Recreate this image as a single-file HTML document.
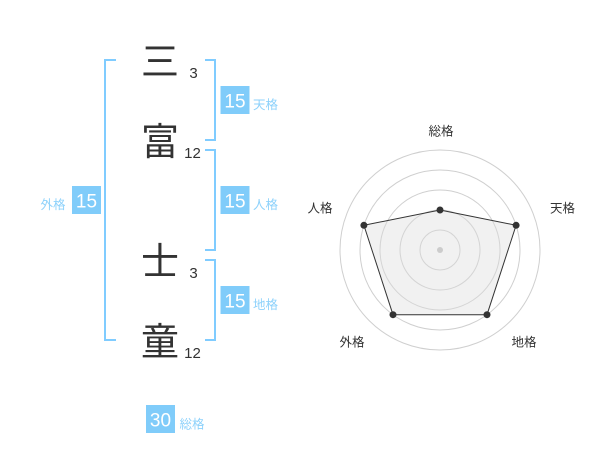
<!DOCTYPE html>
<html>
<head>
<meta charset="utf-8">
<style>
  html, body { margin: 0; padding: 0; background: #fff; }
  body { width: 600px; height: 470px; overflow: hidden; }
  svg { display: block; }
  .kanji { font-family: "Noto Sans CJK JP", "Noto Sans CJK SC", sans-serif; font-size: 38px; fill: #333; }
  .num { font-family: "Liberation Sans", sans-serif; font-size: 15px; fill: #333; }
  .badge { fill: #80ccfa; }
  .bnum { font-family: "Liberation Sans", sans-serif; font-size: 19px; fill: #fff; }
  .blabel { font-family: "Liberation Sans", "Noto Sans CJK JP", sans-serif; font-size: 12.5px; fill: #8ed2fb; }
  .rlabel { font-family: "Liberation Sans", "Noto Sans CJK JP", sans-serif; font-size: 12.5px; fill: #333; }
</style>
</head>
<body>
<svg width="600" height="470" viewBox="0 0 600 470" xmlns="http://www.w3.org/2000/svg">
  <!-- brackets -->
  <g fill="none" stroke="#80ccff" stroke-width="2">
    <path d="M116,60 H105 V340 H116"/>
    <path d="M205,60 H215 V140 H205"/>
    <path d="M205,150 H215 V250 H205"/>
    <path d="M205,260 H215 V340 H205"/>
  </g>

  <!-- kanji -->
  <text class="kanji" x="160" y="75" text-anchor="middle">三</text>
  <text class="kanji" x="160" y="155" text-anchor="middle">富</text>
  <text class="kanji" x="160" y="275" text-anchor="middle">士</text>
  <text class="kanji" x="160" y="355" text-anchor="middle">童</text>

  <!-- stroke counts -->
  <text class="num" x="193.5" y="78" text-anchor="middle">3</text>
  <text class="num" x="192.5" y="158" text-anchor="middle">12</text>
  <text class="num" x="193.5" y="278" text-anchor="middle">3</text>
  <text class="num" x="192.5" y="358" text-anchor="middle">12</text>

  <!-- 天格 -->
  <rect class="badge" x="220.5" y="86" width="29" height="28"/>
  <text class="bnum" x="235" y="107.5" text-anchor="middle">15</text>
  <text class="blabel" x="253" y="109">天格</text>

  <!-- 人格 -->
  <rect class="badge" x="220.5" y="186" width="29" height="28"/>
  <text class="bnum" x="235" y="207.5" text-anchor="middle">15</text>
  <text class="blabel" x="253" y="209">人格</text>

  <!-- 地格 -->
  <rect class="badge" x="220.5" y="286" width="29" height="28"/>
  <text class="bnum" x="235" y="307.5" text-anchor="middle">15</text>
  <text class="blabel" x="253" y="309">地格</text>

  <!-- 外格 -->
  <rect class="badge" x="72" y="186" width="29" height="28"/>
  <text class="bnum" x="86.5" y="207.5" text-anchor="middle">15</text>
  <text class="blabel" x="40.5" y="209">外格</text>

  <!-- 総格 -->
  <rect class="badge" x="146" y="405" width="29" height="28"/>
  <text class="bnum" x="160.5" y="426.5" text-anchor="middle">30</text>
  <text class="blabel" x="179.5" y="428.5">総格</text>

  <!-- radar -->
  <g fill="none" stroke="#cfcfcf" stroke-width="1">
    <circle cx="440" cy="250" r="100"/>
    <circle cx="440" cy="250" r="80"/>
    <circle cx="440" cy="250" r="60"/>
    <circle cx="440" cy="250" r="40"/>
    <circle cx="440" cy="250" r="20"/>
  </g>
  <polygon points="440,210 516.1,225.3 487,314.7 393,314.7 363.9,225.3" fill="rgba(220,220,220,0.4)" stroke="#333" stroke-width="1"/>
  <circle cx="440" cy="250" r="3" fill="#cccccc"/>
  <g fill="#333">
    <circle cx="440" cy="210" r="3.5"/>
    <circle cx="516.1" cy="225.3" r="3.5"/>
    <circle cx="487" cy="314.7" r="3.5"/>
    <circle cx="393" cy="314.7" r="3.5"/>
    <circle cx="363.9" cy="225.3" r="3.5"/>
  </g>
  <text class="rlabel" x="441" y="135.5" text-anchor="middle">総格</text>
  <text class="rlabel" x="562.5" y="212.5" text-anchor="middle">天格</text>
  <text class="rlabel" x="524" y="346.5" text-anchor="middle">地格</text>
  <text class="rlabel" x="352" y="346.5" text-anchor="middle">外格</text>
  <text class="rlabel" x="320" y="212.5" text-anchor="middle">人格</text>
</svg>
</body>
</html>
